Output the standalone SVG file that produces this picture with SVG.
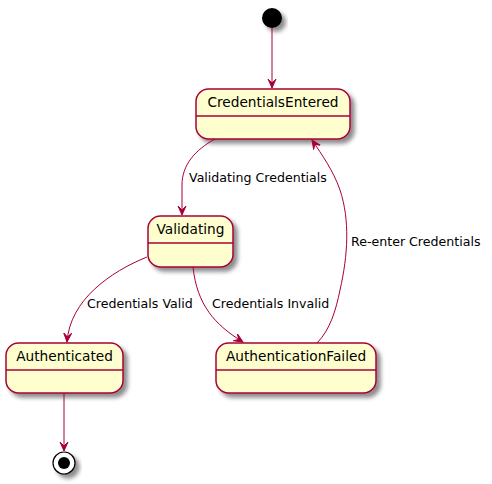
<svg xmlns="http://www.w3.org/2000/svg" width="492" height="484" viewBox="0 0 492 484">
<defs>
<filter id="sh" x="-20%" y="-20%" width="150%" height="160%">
<feGaussianBlur in="SourceAlpha" stdDeviation="2"/>
<feOffset dx="4" dy="4" result="b"/>
<feColorMatrix in="b" type="matrix" values="0 0 0 0 0  0 0 0 0 0  0 0 0 0 0  0 0 0 0.45 0"/>
<feMerge><feMergeNode/><feMergeNode in="SourceGraphic"/></feMerge>
</filter>
<marker id="ah" viewBox="0 0 10 10" refX="9" refY="5" markerWidth="10" markerHeight="10" markerUnits="userSpaceOnUse" orient="auto">
<path d="M0,1 L9,5 L0,9 L4,5 Z" fill="#A80036" stroke="#A80036" stroke-width="1"/>
</marker>
</defs>
<style>
.st{fill:#FEFECE;stroke:#A80036;stroke-width:1.5;}
.dv{stroke:#A80036;stroke-width:1.5;}
.nm{font-family:"DejaVu Sans",sans-serif;font-size:13.7px;fill:#000;text-anchor:middle;}
.lb{font-family:"DejaVu Sans",sans-serif;font-size:12.6px;fill:#000;}
.ed{fill:none;stroke:#A80036;stroke-width:1;marker-end:url(#ah);}
</style>
<g id="start"><circle cx="272" cy="18" r="10" fill="#000" filter="url(#sh)"/></g>
<g id="CredentialsEntered">
<rect class="st" x="196" y="89" width="154" height="50" rx="12.5" filter="url(#sh)"/>
<line class="dv" x1="196" y1="116" x2="350" y2="116"/>
<text class="nm" x="273" y="107">CredentialsEntered</text>
</g>
<g id="Validating">
<rect class="st" x="148" y="216" width="85" height="51" rx="12.5" filter="url(#sh)"/>
<line class="dv" x1="148" y1="243" x2="233" y2="243"/>
<text class="nm" x="190.5" y="234">Validating</text>
</g>
<g id="Authenticated">
<rect class="st" x="6" y="343" width="117" height="50" rx="12.5" filter="url(#sh)"/>
<line class="dv" x1="6" y1="370" x2="123" y2="370"/>
<text class="nm" x="64.5" y="361">Authenticated</text>
</g>
<g id="AuthenticationFailed">
<rect class="st" x="216" y="343" width="160" height="50" rx="12.5" filter="url(#sh)"/>
<line class="dv" x1="216" y1="370" x2="376" y2="370"/>
<text class="nm" x="296" y="361">AuthenticationFailed</text>
</g>
<g id="end">
<circle cx="64" cy="463" r="11" fill="#FFFFFF" stroke="#000" stroke-width="1.2" filter="url(#sh)"/>
<circle cx="64" cy="463" r="6" fill="#000"/>
</g>
<g id="connectors">
<path class="ed" d="M272,28 L272,88"/>
<path class="ed" d="M215,139 C195,150 182,165 182,185 L182,215"/>
<path class="ed" d="M147,257 C110,272 70,300 67,342"/>
<path class="ed" d="M193,267 C197,305 215,325 243,342"/>
<path class="ed" d="M317,343 C330,330 336,310 340,290 C348,255 350,220 340,190 C333,170 322,155 312,140"/>
<path class="ed" d="M64,393 L64,451"/>
<text class="lb" x="189" y="182">Validating Credentials</text>
<text class="lb" x="87" y="308">Credentials Valid</text>
<text class="lb" x="212" y="308">Credentials Invalid</text>
<text class="lb" x="351" y="246">Re-enter Credentials</text>
</g>
</svg>
